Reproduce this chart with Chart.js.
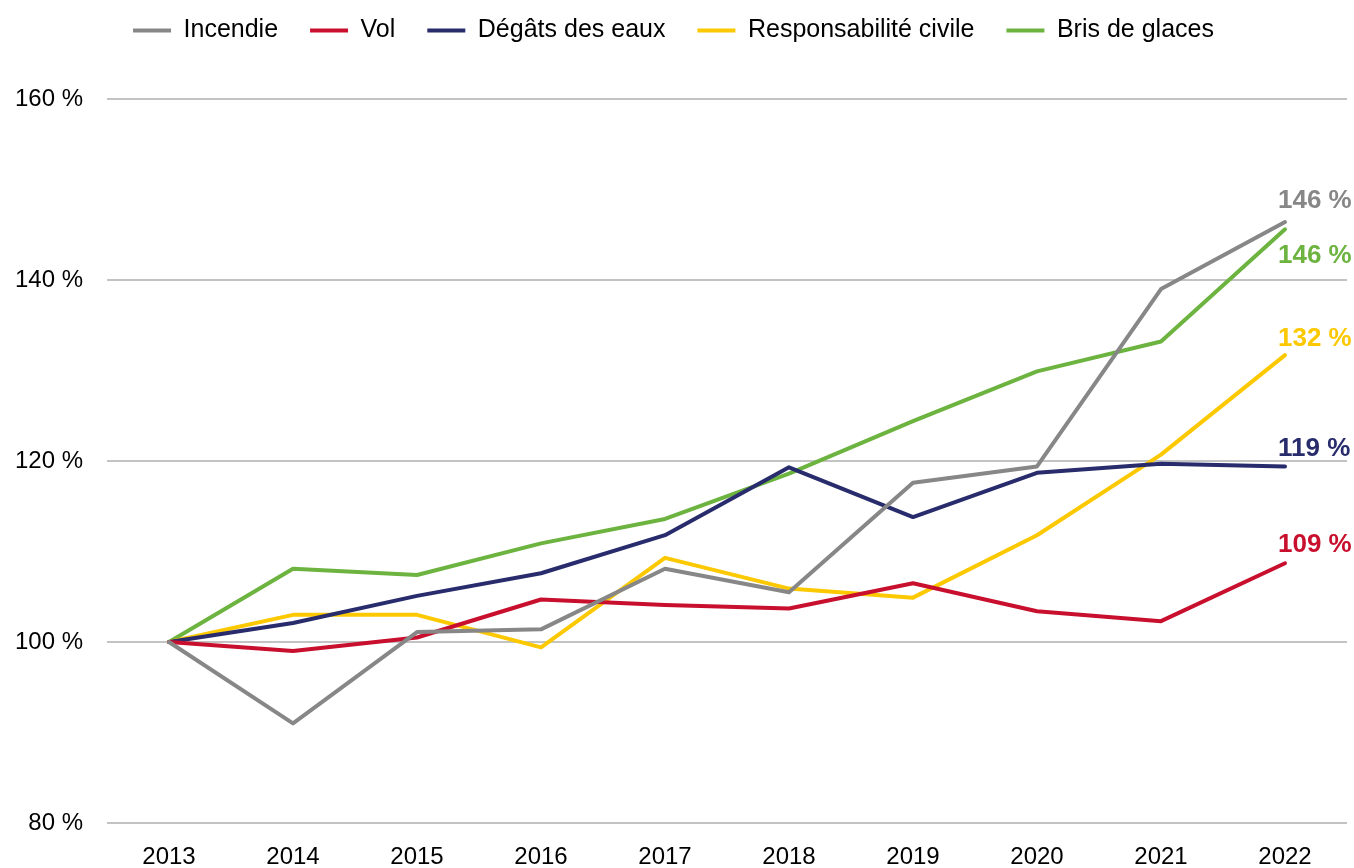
<!DOCTYPE html>
<html lang="fr">
<head>
<meta charset="utf-8">
<title>Indices des sinistres 2013-2022</title>
<script src="https://cdn.jsdelivr.net/npm/chart.js@4.4.1/dist/chart.umd.min.js"></script>
<style>
  html, body { margin: 0; padding: 0; background: #fff; }
  #wrap { width: 1354px; height: 868px; }
</style>
</head>
<body>
<div id="wrap"><canvas id="lineChart"></canvas></div>
<script>
// Années et indices (base 100 en 2013)
const years = ['2013', '2014', '2015', '2016', '2017', '2018', '2019', '2020', '2021', '2022'];
const yTicks = [80, 100, 120, 140, 160];

const incendie = [100, 91.0, 101.1, 101.4, 108.1, 105.5, 117.6, 119.4, 139.0, 146.4];
const vol = [100, 99.0, 100.5, 104.7, 104.1, 103.7, 106.5, 103.4, 102.3, 108.7];
const degatsEaux = [100, 102.1, 105.1, 107.6, 111.8, 119.3, 113.8, 118.7, 119.7, 119.4];
const respCivile = [100, 103.0, 103.0, 99.4, 109.3, 105.9, 104.9, 111.8, 120.7, 131.7];
const brisGlaces = [100, 108.1, 107.4, 110.9, 113.6, 118.6, 124.4, 129.9, 133.2, 145.6];

const seriesNames = ['Incendie', 'Vol', 'Dégâts des eaux', 'Responsabilité civile', 'Bris de glaces'];
const seriesData = [incendie, vol, degatsEaux, respCivile, brisGlaces];
const seriesColors = ['#878787', '#c8102e', '#282c6c', '#fcc800', '#6cb33f'];

// Décalage vertical des étiquettes de fin de courbe (px)
const endLabelShift = [-21, -18, -18, -16, 27];

const FONT = "'Liberation Sans', Arial, sans-serif";

// Etiquette de la dernière valeur à droite de chaque courbe
const endLabels = {
    id: 'endLabels',
    afterDatasetsDraw(chart) {
        const ctx = chart.ctx;
        ctx.save();
        ctx.font = 'bold 26px ' + FONT;
        ctx.textBaseline = 'middle';
        ctx.textAlign = 'left';
        chart.data.datasets.forEach(function (ds, i) {
            const meta = chart.getDatasetMeta(i);
            const last = meta.data[meta.data.length - 1];
            const value = ds.data[ds.data.length - 1];
            ctx.fillStyle = seriesColors[i];
            ctx.fillText(Math.round(value) + ' %', last.x - 7, last.y + endLabelShift[i]);
        });
        ctx.restore();
    }
};

// Hauteur fixe de la légende pour placer la zone de tracé
const legendHeight = {
    id: 'legendHeight',
    beforeInit(chart) {
        const fit = chart.legend.fit;
        chart.legend.fit = function () {
            fit.call(this);
            this.height = 113;
        };
    }
};

document.addEventListener('DOMContentLoaded', function () {
    const ctx = document.getElementById('lineChart').getContext('2d');
    new Chart(ctx, {
        type: 'line',
        data: {
            labels: years,
            datasets: seriesNames.map(function (name, i) {
                return {
                    label: name,
                    data: seriesData[i],
                    borderColor: seriesColors[i],
                    backgroundColor: seriesColors[i],
                    borderWidth: 4,
                    borderCapStyle: 'round',
                    borderJoinStyle: 'round',
                    pointRadius: 0,
                    pointHoverRadius: 0,
                    tension: 0,
                    fill: false
                };
            })
        },
        options: {
            responsive: true,
            maintainAspectRatio: false,
            animation: false,
            layout: {
                padding: { top: -14, right: 7, left: 0, bottom: 0 }
            },
            scales: {
                x: {
                    offset: true,
                    grid: { display: false, drawTicks: false },
                    border: { display: false },
                    ticks: {
                        color: '#000',
                        padding: 20,
                        maxRotation: 0,
                        font: { family: FONT, size: 24 }
                    },
                    afterFit: function (scale) { scale.height = 45; }
                },
                y: {
                    min: 80,
                    max: 160,
                    afterBuildTicks: function (scale) {
                        scale.ticks = yTicks.map(function (v) { return { value: v }; });
                    },
                    grid: { color: '#c3c3c3', lineWidth: 2, drawTicks: false },
                    border: { display: false },
                    ticks: {
                        color: '#000',
                        padding: 24,
                        font: { family: FONT, size: 24 },
                        callback: function (v) { return v + ' %'; }
                    },
                    afterFit: function (scale) { scale.width = 107; }
                }
            },
            plugins: {
                legend: {
                    position: 'top',
                    labels: {
                        usePointStyle: true,
                        pointStyle: 'line',
                        pointStyleWidth: 38,
                        boxHeight: 4,
                        padding: 32,
                        color: '#000',
                        font: { family: FONT, size: 25 },
                        generateLabels: function (chart) {
                            return chart.data.datasets.map(function (ds, i) {
                                return {
                                    text: ds.label,
                                    strokeStyle: seriesColors[i],
                                    fillStyle: seriesColors[i],
                                    lineWidth: 4,
                                    pointStyle: 'line',
                                    datasetIndex: i
                                };
                            });
                        }
                    }
                },
                tooltip: { enabled: false }
            }
        },
        plugins: [legendHeight, endLabels]
    });
});
</script>
</body>
</html>
